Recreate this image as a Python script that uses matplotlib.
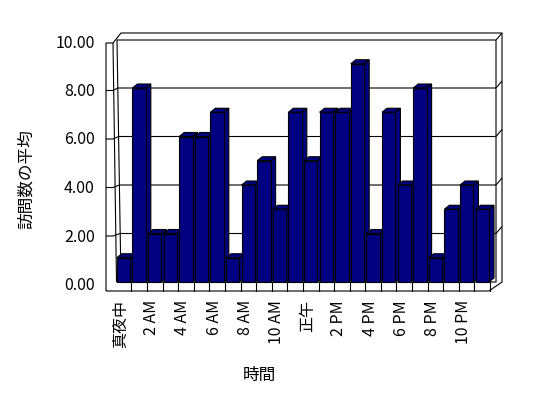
"""Average visits per hour, drawn as an Excel-style 3D column chart."""

import matplotlib

matplotlib.use("Agg")
import matplotlib.pyplot as plt  # noqa: E402
import matplotlib.transforms as mtransforms  # noqa: E402
from matplotlib.patches import Polygon  # noqa: E402

plt.rcParams["font.family"] = ["Noto Sans CJK JP", "DejaVu Sans"]

# data
visits = [1, 8, 2, 2, 6, 6, 7, 1, 4, 5, 3, 7, 5, 7, 7, 9, 2, 7, 4, 8, 1, 3, 4, 3]
hour_labels = ["真夜中", "2 AM", "4 AM", "6 AM", "8 AM", "10 AM",
               "正午", "2 PM", "4 PM", "6 PM", "8 PM", "10 PM"]
y_ticks = [0, 2, 4, 6, 8, 10]
x_title = "時間"
y_title = "訪問数の平均"

BAR_COLOR = "#000080"
W, H = 548, 398
X0_PX, CAT_PX = 115.7, 15.6
Y0_PX, UNIT_PX = 282.0, 24.25


def px(xp, yp):
    """pixel position (from top-left) -> data coords of the main axes"""
    return (xp - X0_PX) / CAT_PX - 0.5, (Y0_PX - yp) / UNIT_PX


def line_px(ax, pts, **kw):
    xs, ys = zip(*[px(x, y) for x, y in pts])
    ax.plot(xs, ys, color="black", linewidth=0.8, clip_on=False,
            solid_capstyle="butt", **kw)


fig = plt.figure(figsize=(W / 100, H / 100), dpi=100)
ax = fig.add_axes([X0_PX / W, (H - Y0_PX) / H, 24 * CAT_PX / W, 10 * UNIT_PX / H])
ax.set_xlim(-0.5, len(visits) - 0.5)
ax.set_ylim(0, 10)
for s in ax.spines.values():
    s.set_visible(False)
ax.patch.set_visible(False)

# walls and floor
line_px(ax, [(106, 291), (106, 43), (113, 43), (121, 33), (502, 33), (502, 282), (489, 291), (106, 291)], zorder=1)
line_px(ax, [(116.5, 282), (113, 43)], zorder=1)
line_px(ax, [(121, 282), (117, 40), (496, 40), (496, 282), (116.5, 282)], zorder=1)
line_px(ax, [(496, 40), (502, 33)], zorder=1)
for v in y_ticks[1:-1]:
    _, yb = 0, Y0_PX - v * UNIT_PX
    xl = 121 - 4 * v / 10
    line_px(ax, [(106, yb + 2.5), (113, yb + 2.5), (xl, yb), (496, yb)], zorder=1)
    line_px(ax, [(496, yb), (502, yb - 7)], zorder=1)
floor_front = px(0, 291)[1]
for k in range(1, len(visits) + 1):
    ax.plot([k - 0.5, k - 0.5], [0, floor_front], color="black", linewidth=0.8,
            clip_on=False, zorder=1)

# bars with side and top faces, painted left to right
width = 0.86
dx, dy = 5 / CAT_PX, 4 / UNIT_PX
bars = ax.bar(range(len(visits)), visits, width=width, color=BAR_COLOR,
              edgecolor="black", linewidth=0.8)
for i, (rect, v) in enumerate(zip(bars, visits)):
    left, right = i - width / 2, i + width / 2
    side = Polygon([(right, 0), (right, v), (right + dx, v + dy), (right + dx, dy)],
                   closed=True, facecolor=BAR_COLOR, edgecolor="black", linewidth=0.8,
                   clip_on=False, zorder=10 + 3 * i)
    top = Polygon([(left, v), (right, v), (right + dx, v + dy), (left + dx, v + dy)],
                  closed=True, facecolor=BAR_COLOR, edgecolor="black", linewidth=0.8,
                  clip_on=False, zorder=10 + 3 * i + 1)
    ax.add_patch(side)
    ax.add_patch(top)
    rect.set_zorder(10 + 3 * i + 2)
    rect.set_clip_on(False)

# ticks
ax.set_yticks(y_ticks, [f"{t:.2f}" for t in y_ticks], fontsize=11.5)
ax.set_xticks(range(0, len(visits), 2), hour_labels, rotation=90, fontsize=11.5)
ax.tick_params(axis="y", length=0, pad=15)
ax.tick_params(axis="x", length=0, pad=13)
for lab in ax.get_xticklabels():
    lab.set_transform(lab.get_transform() + mtransforms.ScaledTranslation(-3 / 100, 0, fig.dpi_scale_trans))
for lab in ax.get_yticklabels():
    lab.set_transform(lab.get_transform() + mtransforms.ScaledTranslation(0, -1.5 / 100, fig.dpi_scale_trans))

fig.text(259 / W, 1 - 375.5 / H, x_title, ha="center", va="center", fontsize=12)
fig.text(26 / W, 1 - 179 / H, y_title, ha="center", va="center", rotation=90, fontsize=12)

fig.savefig("out.png", dpi=100)
